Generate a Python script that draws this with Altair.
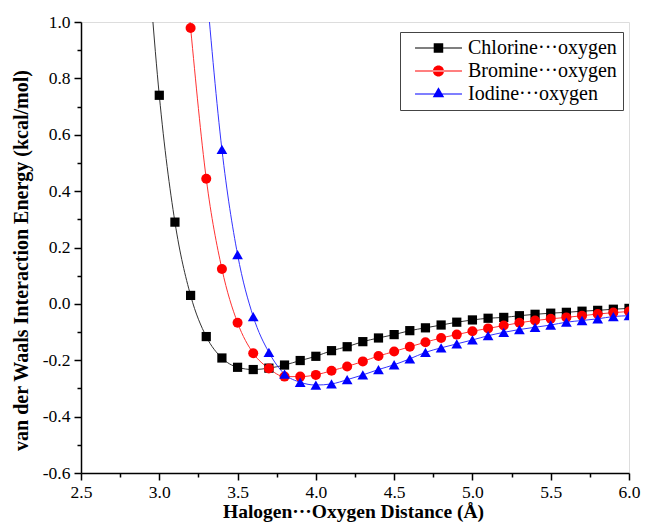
import altair as alt
import pandas as pd

# ---- data ----
series_names = ["Chlorine\u00b7\u00b7\u00b7oxygen", "Bromine\u00b7\u00b7\u00b7oxygen", "Iodine\u00b7\u00b7\u00b7oxygen"]

cl_x = [2.9, 3.0, 3.1, 3.2, 3.3, 3.4, 3.5, 3.6, 3.7, 3.8, 3.9, 4.0, 4.1, 4.2, 4.3, 4.4,
        4.5, 4.6, 4.7, 4.8, 4.9, 5.0, 5.1, 5.2, 5.3, 5.4, 5.5, 5.6, 5.7, 5.8, 5.9, 6.0]
cl_y = [1.44, 0.74, 0.29, 0.03, -0.116, -0.192, -0.225, -0.233, -0.228, -0.217, -0.201,
        -0.186, -0.166, -0.152, -0.134, -0.121, -0.109, -0.095, -0.085, -0.075, -0.065,
        -0.057, -0.051, -0.048, -0.042, -0.037, -0.033, -0.030, -0.026, -0.023, -0.019, -0.016]

br_x = [3.1, 3.2, 3.3, 3.4, 3.5, 3.6, 3.7, 3.8, 3.9, 4.0, 4.1, 4.2, 4.3, 4.4, 4.5,
        4.6, 4.7, 4.8, 4.9, 5.0, 5.1, 5.2, 5.3, 5.4, 5.5, 5.6, 5.7, 5.8, 5.9, 6.0]
br_y = [1.60, 0.979, 0.444, 0.124, -0.067, -0.175, -0.229, -0.258, -0.258, -0.252,
        -0.237, -0.222, -0.204, -0.185, -0.169, -0.152, -0.136, -0.121, -0.109, -0.097,
        -0.087, -0.077, -0.067, -0.059, -0.053, -0.048, -0.042, -0.036, -0.031, -0.027]

io_x = [3.3, 3.4, 3.5, 3.6, 3.7, 3.8, 3.9, 4.0, 4.1, 4.2, 4.3, 4.4, 4.5, 4.6,
        4.7, 4.8, 4.9, 5.0, 5.1, 5.2, 5.3, 5.4, 5.5, 5.6, 5.7, 5.8, 5.9, 6.0]
io_y = [1.13, 0.548, 0.175, -0.045, -0.172, -0.249, -0.278, -0.288, -0.284, -0.269,
        -0.252, -0.233, -0.216, -0.195, -0.172, -0.156, -0.142, -0.128, -0.113, -0.101,
        -0.091, -0.083, -0.075, -0.065, -0.059, -0.053, -0.045, -0.042]

x_ticks = [2.5, 2.75, 3.0, 3.25, 3.5, 3.75, 4.0, 4.25, 4.5, 4.75, 5.0, 5.25, 5.5, 5.75, 6.0]
y_ticks = [-0.6, -0.5, -0.4, -0.3, -0.2, -0.1, 0.0, 0.1, 0.2, 0.3, 0.4, 0.5, 0.6, 0.7, 0.8, 0.9, 1.0]

colors = ["#000000", "#ff0000", "#0000ff"]
line_colors = ["#333333", "#ff3333", "#3333ff"]
marker_shapes = ["square", "circle", "triangle-up"]
marker_sizes = [85, 115, 125]
# legend symbols: short line with the marker on it (custom paths)
legend_shapes = [
    "M-0.14,-0.07H6.57V0.07H-0.14Z M2.53,-0.68H3.89V0.68H2.53Z",
    "M-0.14,-0.07H6.57V0.07H-0.14Z M2.42,0A0.79,0.79 0 1,0 4.0,0A0.79,0.79 0 1,0 2.42,0Z",
    "M-0.14,-0.07H6.57V0.07H-0.14Z M3.21,-0.95L4.03,0.48L2.39,0.48Z",
]

rows = []
for name, xs, ys in [(series_names[0], cl_x, cl_y), (series_names[1], br_x, br_y), (series_names[2], io_x, io_y)]:
    for i, (xv, yv) in enumerate(zip(xs, ys)):
        rows.append({"series": name, "x": xv, "y": yv, "order": i})
df = pd.DataFrame(rows)

FONT = "Liberation Serif"
PLOT_W = 548
PLOT_H = 451

x_major = "abs(datum.value*2 - round(datum.value*2)) < 0.01"
y_major = "abs(datum.value*5 - round(datum.value*5)) < 0.01"

x_axis = alt.Axis(
    values=x_ticks,
    labelExpr=f"{x_major} ? format(datum.value, '.1f') : ''",
    title="Halogen\u00b7\u00b7\u00b7Oxygen Distance (\u00c5)",
    titleFont=FONT, titleFontSize=19.5, titleFontWeight="bold", titleColor="black",
    titleX=PLOT_W / 2 - 2, titleY=44, titleBaseline="alphabetic",
    labelFont=FONT, labelFontSize=17.5, labelColor="black", labelPadding=3,
    tickColor="black", tickWidth=1.5,
    tickSize={"condition": {"test": x_major, "value": 7}, "value": 4},
    domainColor="black", domainWidth=1.5, grid=False, labelFlush=False,
    labelOverlap=False,
)
y_axis = alt.Axis(
    values=y_ticks,
    labelExpr=f"{y_major} ? replace(format(datum.value, '.1f'), '\u2212', '-') : ''",
    title="van der Waals Interaction Energy (kcal/mol)",
    titleFont=FONT, titleFontSize=20, titleFontWeight="bold", titleColor="black",
    titleX=-54, titleY=238, titleBaseline="alphabetic", titleAngle=270,
    labelFont=FONT, labelFontSize=17.5, labelColor="black", labelPadding=4,
    tickColor="black", tickWidth=1.5,
    tickSize={"condition": {"test": y_major, "value": 7}, "value": 4},
    domainColor="black", domainWidth=1.5, grid=False, labelFlush=False,
    labelOverlap=False,
)

x_scale = alt.Scale(domain=[2.5, 6.0], nice=False, zero=False)
y_scale = alt.Scale(domain=[-0.6, 1.0], nice=False, zero=False)

base = alt.Chart(df)

lines = base.mark_line(clip=True, strokeWidth=1, interpolate="monotone").encode(
    x=alt.X("x:Q", scale=x_scale, axis=x_axis),
    y=alt.Y("y:Q", scale=y_scale, axis=y_axis),
    color=alt.Color("series:N", scale=alt.Scale(domain=series_names, range=line_colors), legend=None),
    detail="series:N",
    order="order:Q",
)

points = base.mark_point(filled=True, clip=True, opacity=1).encode(
    x=alt.X("x:Q", scale=x_scale, axis=x_axis),
    y=alt.Y("y:Q", scale=y_scale, axis=y_axis),
    color=alt.Color("series:N", scale=alt.Scale(domain=series_names, range=colors), legend=None),
    shape=alt.Shape("series:N", scale=alt.Scale(domain=series_names, range=marker_shapes), legend=None),
    size=alt.Size("series:N", scale=alt.Scale(domain=series_names, range=marker_sizes), legend=None),
)

legend_props = dict(title=None, orient="none", legendX=319, legendY=10,
                    labelFont=FONT, labelFontSize=20, labelColor="black",
                    symbolSize=196, symbolStrokeWidth=0, labelOffset=42,
                    padding=6, rowPadding=3, strokeColor="#444444",
                    fillColor="white", labelLimit=300)

legend_layer = base.transform_filter("false").mark_point(filled=True, opacity=1).encode(
    color=alt.Color("series:N", scale=alt.Scale(domain=series_names, range=colors),
                    legend=alt.Legend(**legend_props)),
    shape=alt.Shape("series:N", scale=alt.Scale(domain=series_names, range=legend_shapes),
                    legend=alt.Legend(**legend_props)),
)

chart = alt.layer(lines, points, legend_layer).resolve_scale(
    color="independent", shape="independent", size="independent"
).properties(
    width=PLOT_W,
    height=PLOT_H,
    autosize="none",
    padding={"left": 73, "top": 14, "right": 13, "bottom": 49},
).configure_view(
    stroke="black", strokeWidth=1.5
).configure(background="white")

chart.save("out.html", embed_options={"renderer": "svg", "actions": False})
